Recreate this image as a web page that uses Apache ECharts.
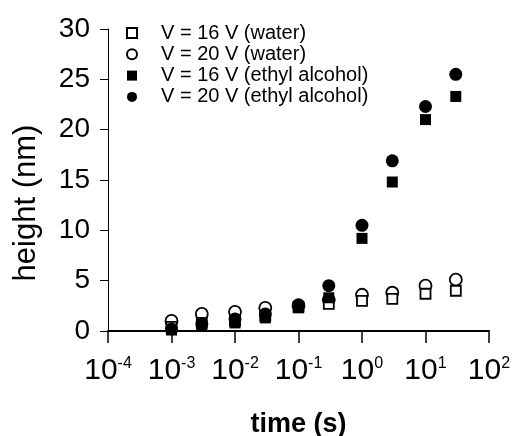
<!DOCTYPE html>
<html>
<head>
<meta charset="utf-8">
<script src="https://cdn.jsdelivr.net/npm/echarts@6/dist/echarts.min.js"></script>
<style>
  html, body { margin: 0; padding: 0; background: #fff; }
  #chart { width: 514px; height: 436px; }
</style>
</head>
<body>
<div id="chart"></div>
<script>
// time points (s)
const times = [1e-3, 3e-3, 1e-2, 3e-2, 1e-1, 3e-1, 1, 3, 10, 30];
// heights (nm)
const water16 = [0.4, 0.8, 1.0, 1.5, 2.4, 2.7, 3.0, 3.2, 3.7, 4.0];
const water20 = [1.0, 1.7, 1.9, 2.3, 2.5, 3.1, 3.6, 3.8, 4.5, 5.1];
const ethyl16 = [0.1, 0.5, 0.8, 1.3, 2.3, 3.3, 9.2, 14.8, 21.0, 23.3];
const ethyl20 = [0.2, 0.7, 1.2, 1.7, 2.6, 4.5, 10.5, 16.9, 22.3, 25.5];
const seriesNames = [
  "V = 16 V (water)",
  "V = 20 V (water)",
  "V = 16 V (ethyl alcohol)",
  "V = 20 V (ethyl alcohol)",
];

const font = "'Liberation Sans', Arial, Helvetica, sans-serif";

function pairs(vals) {
  return times.map((t, i) => [t, vals[i]]);
}

const chart = echarts.init(document.getElementById("chart"));
chart.setOption({
  animation: false,
  textStyle: { fontFamily: font, color: "#000" },
  grid: { left: 108, right: 25, top: 29, bottom: 105, containLabel: false, outerBoundsMode: "none" },
  legend: {
    data: seriesNames,
    orient: "vertical",
    left: 121,
    top: 18,
    itemWidth: 10,
    itemHeight: 10,
    itemGap: 1.3,
    textStyle: { fontSize: 20, fontFamily: font, color: "#000", padding: [0, 0, 0, 19] },
  },
  xAxis: {
    type: "log",
    logBase: 10,
    min: 1e-4,
    max: 1e2,
    interval: 1,
    name: "time (s)",
    nameLocation: "middle",
    nameGap: 80,
    nameTextStyle: { fontSize: 27, fontWeight: "bold", fontFamily: font, color: "#000" },
    axisLine: { lineStyle: { color: "#000", width: 2 } },
    axisTick: { show: true, length: 12, lineStyle: { color: "#000", width: 1.5 } },
    minorTick: { show: false },
    splitLine: { show: false },
    axisLabel: {
      margin: 25,
      showMinLabel: true,
      showMaxLabel: true,
      formatter: (v) => {
        const e = Math.round(Math.log10(v));
        return "{b|10}{s|" + e + "}";
      },
      rich: {
        b: { fontSize: 30, lineHeight: 30, fontFamily: font, color: "#000" },
        s: { fontSize: 16, lineHeight: 10, verticalAlign: "top", fontFamily: font, color: "#000" },
      },
    },
  },
  yAxis: {
    type: "value",
    min: 0,
    max: 30,
    interval: 5,
    name: "height (nm)",
    nameLocation: "middle",
    nameGap: 66,
    nameTextStyle: { fontSize: 31, fontFamily: font, color: "#000", padding: [0, 46, 0, 0] },
    axisLine: { show: true, lineStyle: { color: "#000", width: 1 } },
    axisTick: { show: true, length: 8, lineStyle: { color: "#000", width: 1 } },
    splitLine: { show: false },
    axisLabel: { fontSize: 28, margin: 18, color: "#000", fontFamily: font },
  },
  series: [
    {
      name: seriesNames[0],
      type: "scatter",
      symbol: "rect",
      symbolSize: 10,
      z: 3,
      itemStyle: { color: "#fff", borderColor: "#000", borderWidth: 1.8, opacity: 1 },
      data: pairs(water16),
    },
    {
      name: seriesNames[1],
      type: "scatter",
      symbol: "circle",
      symbolSize: 12,
      z: 2,
      itemStyle: { color: "#fff", borderColor: "#000", borderWidth: 1.8, opacity: 1 },
      data: pairs(water20),
    },
    {
      name: seriesNames[2],
      type: "scatter",
      symbol: "rect",
      symbolSize: 11,
      z: 4,
      itemStyle: { color: "#000", opacity: 1 },
      data: pairs(ethyl16),
    },
    {
      name: seriesNames[3],
      type: "scatter",
      symbol: "circle",
      symbolSize: 13,
      z: 4,
      itemStyle: { color: "#000", opacity: 1 },
      data: pairs(ethyl20),
    },
  ],
});
</script>
</body>
</html>
